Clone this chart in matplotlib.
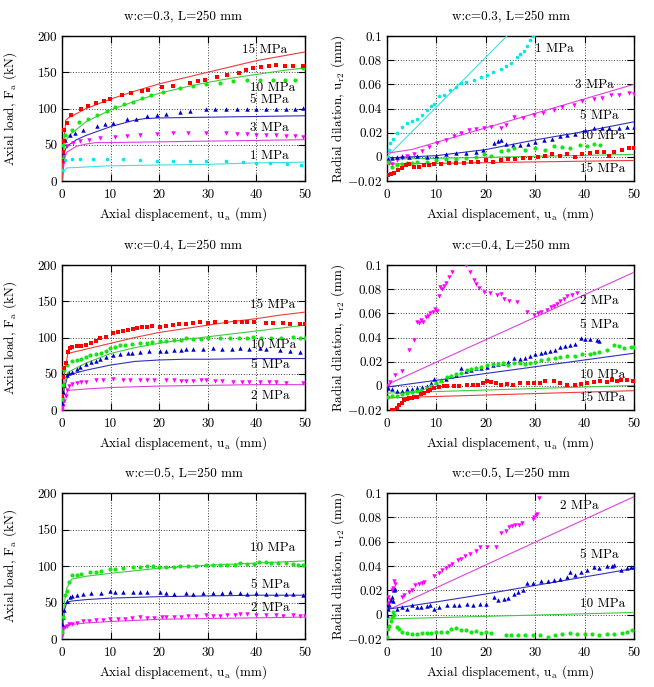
import matplotlib
matplotlib.use("Agg")
import matplotlib.pyplot as plt
from matplotlib.ticker import FuncFormatter, MultipleLocator

plt.rcParams['font.family'] = 'serif'
plt.rcParams['font.serif'] = ['cmr10', 'DejaVu Serif']
plt.rcParams['mathtext.fontset'] = 'cm'
plt.rcParams['axes.formatter.use_mathtext'] = True
plt.rcParams['axes.unicode_minus'] = True

# ---------------- colours / markers per confining pressure ----------------
COL = {
    'red':     ('#ff0000', '#f03a3a', 's', 2.8),
    'green':   ('#14e614', '#3ccc3c', 'o', 3.0),
    'blue':    ('#0000cc', '#3030c0', '^', 3.2),
    'magenta': ('#ff00ff', '#e040e0', 'v', 3.2),
    'cyan':    ('#00e8e8', '#40e0e0', 'o', 2.6),
}

# ================= Panel 1: w:c=0.3 axial load =================
p1_title = "w:c=0.3, L=250 mm"
p1_red_x = [0.1, 0.2, 0.3, 0.5, 1.0, 1.9, 4.0, 5.4, 6.9, 8.6, 9.9, 12.4, 14.2, 16.4, 17.7, 20.6, 22.9, 26.3, 27.9, 29.5, 31.8, 34.0, 36.4, 37.8, 39.3, 41.0, 42.5, 44.0, 45.8, 47.5, 49.5]
p1_red_y = [28, 40, 55, 70, 80, 91, 100, 103, 107, 110, 113, 118, 121, 124, 125, 130, 131, 135, 138, 140, 144, 146, 149, 153, 156, 157, 159, 160, 159, 159, 158]
p1_red_lx = [0, 0.3, 0.8, 1.3, 5, 10, 15, 20, 25, 30, 35, 40, 45, 50]
p1_red_ly = [0, 50, 84, 87, 100, 113, 124, 134, 142, 150, 158, 166, 172, 178]
p1_green_x = [0.1, 0.3, 0.6, 2.0, 3.5, 5.3, 7.1, 9.2, 11.0, 12.8, 14.7, 16.4, 18.4, 20.8, 24.2, 27.0, 29.7, 32.5, 35.2, 38.0, 40.7, 43.4, 45.8, 47.9, 49.5]
p1_green_y = [30, 50, 63, 70, 81, 86, 91, 97, 102, 106, 109, 114, 118, 123, 128, 131, 134, 135, 138, 139, 140, 140, 140, 140, 156]
p1_green_lx = [0, 0.5, 1.3, 5, 10, 15, 20, 25, 30, 35, 40, 45, 50]
p1_green_ly = [0, 50, 62, 82, 98, 110, 121, 129, 136, 142, 147, 152, 156]
p1_blue_x = [0.2, 0.6, 1.6, 2.7, 4.4, 7.1, 8.8, 10.5, 13.3, 15.3, 17.4, 19.5, 21.5, 24.2, 26.3, 29.7, 31.5, 33.8, 36, 38, 40, 42, 44, 46, 48, 49.6]
p1_blue_y = [40, 57, 64, 66, 70, 76, 79, 80, 85, 86, 89, 91, 93, 95, 97, 99, 99, 100, 100, 100, 100, 100, 100, 100, 100, 101]
p1_blue_lx = [0, 0.5, 1, 3, 5, 10, 15, 17, 20, 30, 40, 50]
p1_blue_ly = [0, 40, 48, 57, 63, 75, 84, 86, 87, 88, 89, 90]
p1_mag_x = [0.2, 1.0, 2.3, 3.7, 5.5, 7.8, 10.9, 13.3, 16.0, 19.5, 22.9, 26.0, 29.7, 33.8, 36, 38, 40, 42, 44, 46, 48, 49.6]
p1_mag_y = [25, 48, 52, 55, 57, 59, 61, 62, 64, 65, 66, 66, 66, 66, 65, 65, 64, 64, 63, 62, 62, 61]
p1_mag_lx = [0, 0.5, 1, 3, 5, 7, 10, 20, 30, 40, 50]
p1_mag_ly = [0, 30, 40, 48, 51, 53, 53, 54, 55, 56, 57]
p1_cyan_x = [0.1, 0.6, 2.0, 3.7, 6.4, 9.2, 12.6, 16.0, 19.5, 22.9, 26.3, 29.7, 33.8, 37.3, 40.0, 42.7, 46.2, 49.2]
p1_cyan_y = [15, 29, 30, 31, 31, 31, 30, 29, 28, 28, 27, 27, 27, 26, 25, 25, 23, 22]
p1_cyan_lx = [0, 0.5, 1, 10, 20, 30, 40, 50]
p1_cyan_ly = [0, 15, 18, 21, 22, 23, 25, 26]
p1_labels = ["15 MPa", "10 MPa", "5 MPa", "3 MPa", "1 MPa"]
p1_label_x = [41.6, 43.4, 42.6, 42.7, 42.6]
p1_label_y = [181, 128, 112, 73, 35]

# ================= Panel 2: w:c=0.3 radial dilation =================
p2_cyan_x = [0.2, 0.5, 0.7, 1.2, 2.0, 3.0, 4.0, 5.0, 6.1, 7.0, 8.1, 9.0, 9.5, 10.5, 11.5, 12.8, 14.0, 14.9, 16.0, 17.6, 19.0, 20.3, 21.5, 23.0, 24.0, 25.0, 26.4, 27.0, 27.7, 28.4, 29.0, 29.5]
p2_cyan_y = [0.000, 0.006, 0.0115, 0.015, 0.020, 0.025, 0.028, 0.030, 0.031, 0.035, 0.039, 0.042, 0.044, 0.050, 0.051, 0.055, 0.058, 0.061, 0.062, 0.064, 0.066, 0.068, 0.070, 0.073, 0.075, 0.078, 0.083, 0.085, 0.088, 0.092, 0.097, 0.100]
p2_cyan_lx = [0, 25]
p2_cyan_ly = [0.0, 0.103]
p2_mag_x = [0.5, 1.0, 2.0, 3.0, 4.0, 5.5, 7.0, 8.5, 10.1, 12.0, 13.5, 14.9, 16.5, 18.0, 19.6, 21.0, 23.0, 24.0, 25.7, 27.5, 29.7, 31.5, 33.8, 35.5, 37.8, 39.5, 41.9, 43.5, 45.3, 47.0, 49.0, 50.0]
p2_mag_y = [-0.005, -0.006, -0.003, -0.001, 0.001, 0.002, 0.005, 0.008, 0.0115, 0.014, 0.017, 0.020, 0.022, 0.023, 0.024, 0.025, 0.024, 0.026, 0.033, 0.032, 0.035, 0.036, 0.039, 0.041, 0.043, 0.046, 0.048, 0.049, 0.051, 0.051, 0.053, 0.052]
p2_mag_lx = [0, 5, 10, 20, 30, 40, 50]
p2_mag_ly = [0.003, 0.006, 0.012, 0.024, 0.036, 0.048, 0.060]
p2_blue_x = [0.2, 1.0, 2.0, 3.0, 4.5, 6.0, 8.0, 10.0, 12.0, 14.0, 16.0, 18.0, 19.5, 21.6, 22.5, 23.0, 24.0, 25.5, 27.0, 28.5, 30.0, 31.8, 33.5, 35.0, 36.5, 38.0, 40.0, 41.9, 43.5, 45.0, 47.0, 48.6, 50.0]
p2_blue_y = [-0.002, -0.001, 0.0, 0.001, 0.000, 0.001, 0.000, 0.001, 0.002, 0.003, 0.003, 0.004, 0.006, 0.0115, 0.013, 0.014, 0.011, 0.010, 0.010, 0.011, 0.012, 0.014, 0.015, 0.017, 0.018, 0.019, 0.022, 0.024, 0.024, 0.024, 0.024, 0.025, 0.025]
p2_blue_lx = [0, 5, 10, 20, 30, 40, 50]
p2_blue_ly = [-0.001, 0.0, 0.001, 0.006, 0.014, 0.021, 0.029]
p2_green_x = [0.3, 1.0, 2.0, 3.0, 4.0, 5.0, 6.0, 8.0, 10.0, 12.0, 14.0, 16.0, 18.0, 19.6, 21.0, 23.0, 24.5, 25.7, 28.0, 30.0, 32.0, 33.8, 35.5, 37.0, 39.0, 40.5, 42.0, 43.2]
p2_green_y = [-0.004, -0.008, -0.007, -0.006, -0.005, -0.005, -0.004, -0.004, -0.003, -0.002, -0.002, -0.001, 0.000, 0.002, 0.001, 0.005, 0.006, 0.007, 0.006, 0.007, 0.006, 0.009, 0.008, 0.007, 0.010, 0.009, 0.011, 0.010]
p2_green_lx = [0, 50]
p2_green_ly = [-0.002, 0.002]
p2_red_x = [0.2, 0.8, 1.5, 2.2, 3.0, 3.8, 4.5, 5.5, 6.5, 7.5, 8.5, 9.5, 11.0, 12.5, 14.0, 15.5, 17.0, 18.5, 20.0, 21.5, 23.0, 24.5, 26.0, 27.5, 29.0, 30.5, 32.0, 33.5, 35.0, 36.5, 38.0, 39.5, 41.0, 42.5, 44.0, 45.0, 46.0, 47.5, 49.0, 50.0]
p2_red_y = [-0.015, -0.014, -0.013, -0.011, -0.009, -0.007, -0.006, -0.008, -0.008, -0.007, -0.007, -0.006, -0.006, -0.005, -0.005, -0.005, -0.004, -0.004, -0.003, -0.004, -0.003, -0.002, -0.002, -0.001, -0.001, 0.000, 0.001, 0.002, 0.001, 0.002, 0.000, 0.002, 0.003, 0.004, 0.004, 0.001, 0.004, 0.006, 0.007, 0.007]
p2_red_lx = [0, 50]
p2_red_ly = [-0.006, -0.003]
p2_labels = ["1 MPa", "3 MPa", "5 MPa", "10 MPa", "15 MPa"]
p2_label_x = [33.8, 41.9, 42.9, 43.6, 43.6]
p2_label_y = [0.0896, 0.0595, 0.034, 0.017, -0.010]

# ================= Panel 3: w:c=0.4 axial load =================
p3_title = "w:c=0.4, L=250 mm"
p3_red_x = [0.1, 0.3, 0.5, 0.8, 1.2, 1.6, 2.0, 3.0, 4.0, 5.0, 6.0, 7.0, 7.8, 9.0, 10.5, 11.5, 12.5, 13.5, 14.7, 15.5, 16.5, 17.4, 18.5, 20.1, 21.5, 22.9, 24.0, 25.5, 27.0, 28.4, 30.0, 31.5, 33.8, 35.5, 37.0, 38.0, 39.5, 42.0, 43.5, 45.5, 47.0, 49.0, 50.0]
p3_red_y = [20, 45, 58, 65, 80, 85, 87, 88, 88, 90, 92, 95, 99, 101, 106, 107, 109, 110, 112, 113, 114, 115, 116, 115, 116, 117, 118, 119, 120, 121, 120, 121, 122, 121, 121, 122, 121, 120, 120, 120, 119, 119, 118]
p3_red_lx = [0, 0.5, 1.2, 5, 10, 15, 20, 25, 30, 35, 40, 45, 50]
p3_red_ly = [0, 50, 78, 84, 92, 100, 107, 112, 117, 122, 126, 131, 135]
p3_green_x = [0.1, 0.3, 0.5, 1.0, 2.0, 3.0, 4.0, 5.0, 5.8, 7.0, 8.0, 9.0, 9.9, 11.0, 11.9, 13.0, 14.5, 16.0, 17.5, 18.5, 20.1, 21.5, 23.0, 24.5, 25.6, 27.0, 28.5, 30.0, 32.5, 34.5, 36.5, 38.0, 39.3, 41.0, 43.0, 45.0, 47.5, 49.0, 50.0]
p3_green_y = [15, 35, 55, 62, 67, 69, 71, 73, 76, 77, 79, 81, 85, 87, 90, 90, 91, 92, 93, 94, 95, 95, 96, 97, 99, 98, 98, 99, 100, 99, 100, 100, 101, 100, 100, 100, 101, 100, 100]
p3_green_lx = [0, 0.5, 1.2, 5, 10, 15, 20, 25, 30, 35, 40, 45, 50]
p3_green_ly = [0, 35, 52, 65, 78, 86, 92, 97, 101, 105, 109, 113, 117]
p3_blue_x = [0.1, 0.3, 0.5, 1.0, 1.5, 2.0, 3.0, 3.7, 5.0, 6.0, 7.0, 7.8, 9.0, 10.5, 12.0, 13.5, 14.5, 16.0, 18.0, 20.1, 21.5, 23.0, 24.5, 25.6, 27.0, 29.0, 31.1, 33.0, 35.0, 36.6, 38.5, 40.7, 42.0, 44.8, 47.0, 49.0]
p3_blue_y = [10, 25, 35, 48, 51, 53, 56, 60, 63, 66, 68, 71, 73, 76, 77, 78, 79, 80, 81, 82, 82, 83, 83, 84, 84, 84, 85, 84, 84, 85, 84, 86, 84, 83, 82, 80]
p3_blue_lx = [0, 0.5, 1.2, 5, 10, 15, 20, 25, 30, 40, 50]
p3_blue_ly = [0, 30, 48, 55, 62, 67, 69, 70, 70, 71, 71]
p3_mag_x = [0.1, 0.3, 0.5, 0.8, 1.0, 1.5, 2.0, 3.0, 4.0, 5.0, 7.0, 8.5, 10.5, 12.5, 14.0, 16.0, 17.5, 19.0, 21.5, 23.0, 24.5, 25.6, 27.0, 28.5, 29.7, 31.5, 33.0, 35.2, 37.0, 38.5, 40.7, 42.5, 44.0, 46.0, 49.6]
p3_mag_y = [0, 5, 12, 20, 28, 33, 36, 37, 39, 39, 41, 41, 43, 42, 42, 42, 42, 42, 41, 41, 40, 40, 40, 41, 41, 40, 40, 39, 39, 39, 38, 38, 38, 37, 37]
p3_mag_lx = [0, 0.5, 1.2, 5, 10, 20, 30, 40, 50]
p3_mag_ly = [0, 15, 27, 29, 31, 33, 34, 35, 35]
p3_labels = ["15 MPa", "10 MPa", "5 MPa", "2 MPa"]
p3_label_x = [43.4, 43.6, 42.9, 42.9]
p3_label_y = [145, 90, 62, 20]

# ================= Panel 4: w:c=0.4 radial dilation =================
p4_mag_x = [0.2, 0.7, 1.7, 3.0, 4.4, 5.5, 6.1, 6.5, 6.8, 7.3, 7.8, 8.3, 8.8, 9.3, 9.8, 10.2, 10.5, 10.8, 11.2, 11.5, 12.0, 12.5, 13.2, 15.9, 16.9, 17.6, 18.1, 18.6, 19.6, 20.9, 22.3, 23.0, 23.6, 24.7, 26.4, 28.4, 29.7, 30.5, 31.1, 32.4, 33.1, 33.8, 34.5, 35.1, 35.8, 36.5, 37.5, 38.5]
p4_mag_y = [-0.0005, 0.0035, 0.009, 0.012, 0.030, 0.038, 0.053, 0.052, 0.0545, 0.053, 0.057, 0.058, 0.060, 0.061, 0.064, 0.062, 0.074, 0.082, 0.080, 0.083, 0.085, 0.090, 0.094, 0.100, 0.094, 0.0875, 0.084, 0.081, 0.078, 0.0765, 0.075, 0.076, 0.072, 0.070, 0.069, 0.061, 0.059, 0.060, 0.061, 0.063, 0.065, 0.066, 0.068, 0.070, 0.072, 0.074, 0.075, 0.0765]
p4_mag_lx = [0, 50]
p4_mag_ly = [0.001, 0.094]
p4_blue_x = [0.2, 1.0, 2.0, 3.0, 4.0, 5.0, 6.0, 7.0, 8.0, 9.0, 9.5, 10.0, 11.0, 12.0, 13.0, 14.0, 14.9, 16.0, 17.0, 18.0, 19.0, 20.3, 21.5, 22.5, 23.5, 24.5, 25.7, 27.0, 28.0, 29.0, 30.0, 31.1, 32.0, 33.0, 34.0, 35.1, 36.0, 37.0, 38.0, 39.2, 40.0, 41.0, 42.6, 43.0]
p4_blue_y = [-0.002, -0.003, -0.004, -0.004, -0.003, -0.003, -0.002, -0.001, 0.000, 0.002, 0.006, 0.003, 0.005, 0.006, 0.008, 0.009, 0.0146, 0.012, 0.013, 0.015, 0.015, 0.016, 0.017, 0.018, 0.019, 0.020, 0.023, 0.022, 0.023, 0.025, 0.026, 0.027, 0.028, 0.029, 0.030, 0.0325, 0.033, 0.034, 0.035, 0.040, 0.039, 0.039, 0.038, 0.037]
p4_blue_lx = [0, 50]
p4_blue_ly = [-0.001, 0.027]
p4_green_x = [0.2, 1.0, 2.0, 3.0, 4.0, 5.0, 6.0, 6.8, 8.0, 9.0, 10.0, 11.0, 12.2, 13.0, 14.0, 15.0, 16.2, 17.0, 18.0, 19.0, 20.3, 21.5, 22.5, 23.5, 24.5, 25.7, 27.0, 28.0, 29.0, 30.0, 31.1, 32.5, 34.0, 35.0, 36.5, 38.0, 39.5, 41.0, 41.9, 43.0, 44.5, 46.0, 47.0, 48.0, 49.3, 50.0]
p4_green_y = [-0.009, -0.008, -0.008, -0.007, -0.006, -0.005, -0.004, -0.0033, -0.002, 0.000, 0.002, 0.004, 0.0077, 0.008, 0.010, 0.011, 0.013, 0.014, 0.015, 0.016, 0.017, 0.018, 0.018, 0.019, 0.017, 0.0187, 0.019, 0.018, 0.019, 0.020, 0.021, 0.022, 0.023, 0.024, 0.025, 0.025, 0.026, 0.026, 0.027, 0.028, 0.030, 0.034, 0.033, 0.031, 0.032, 0.032]
p4_green_lx = [0, 50]
p4_green_ly = [-0.006, 0.0003]
p4_red_x = [1.0, 1.4, 2.0, 2.5, 3.0, 3.4, 4.0, 4.5, 5.0, 5.5, 6.1, 6.8, 7.5, 8.2, 8.8, 9.5, 10.5, 11.5, 12.2, 13.5, 14.5, 16.2, 17.5, 18.5, 19.5, 20.3, 21.0, 22.0, 23.0, 24.3, 25.5, 27.0, 28.5, 29.7, 31.0, 32.0, 33.8, 35.0, 36.5, 38.0, 39.2, 40.5, 42.0, 43.2, 44.5, 45.5, 46.5, 47.3, 48.5, 49.7]
p4_red_y = [-0.020, -0.020, -0.018, -0.016, -0.014, -0.0115, -0.011, -0.010, -0.010, -0.009, -0.009, -0.007, -0.006, -0.004, -0.0033, -0.002, -0.001, 0.000, -0.0005, 0.000, 0.000, 0.0008, 0.001, 0.001, 0.002, 0.0036, 0.003, 0.002, 0.001, 0.0017, 0.001, 0.002, 0.002, 0.0022, 0.002, 0.004, 0.0036, 0.002, 0.001, 0.001, 0.0017, 0.002, 0.003, 0.0036, 0.003, 0.005, 0.004, 0.005, 0.005, 0.0044]
p4_red_lx = [0, 50]
p4_red_ly = [-0.010, -0.004]
p4_labels = ["2 MPa", "5 MPa", "10 MPa", "15 MPa"]
p4_label_x = [42.9, 42.9, 43.6, 43.6]
p4_label_y = [0.070, 0.050, 0.009, -0.010]

# ================= Panel 5: w:c=0.5 axial load =================
p5_title = "w:c=0.5, L=250 mm"
p5_green_x = [0.1, 0.3, 0.6, 1.0, 1.5, 2.0, 3.0, 4.0, 5.8, 7.0, 8.0, 9.9, 11.0, 12.5, 14.7, 16.0, 17.5, 18.8, 20.0, 21.5, 23.0, 24.2, 26.0, 27.5, 29.7, 31.0, 32.5, 34.0, 35.5, 36.6, 38.0, 39.5, 40.5, 42.0, 43.0, 44.5, 46.0, 47.5, 48.5, 49.6]
p5_green_y = [10, 30, 60, 66, 78, 87, 88, 89, 91.5, 92, 93, 96, 96, 97, 98, 99, 100, 100, 98, 98, 99, 100, 100, 100, 102, 101, 101, 102, 102, 104, 103, 103, 105, 105, 104, 104, 104, 103, 102, 102]
p5_green_lx = [0, 0.5, 1, 2, 5, 10, 20, 30, 40, 50]
p5_green_ly = [0, 50, 70, 82, 86, 90, 97, 101, 104, 107]
p5_blue_x = [0.1, 0.3, 0.5, 1.0, 1.6, 2.0, 3.0, 4.4, 6.0, 8.0, 9.9, 11.0, 12.5, 14.7, 16.0, 17.5, 20.1, 21.5, 23.0, 25.6, 27.0, 29.0, 31.1, 33.0, 34.5, 36.6, 38.0, 40.0, 42.0, 44.0, 46.0, 47.5, 49.6]
p5_blue_y = [20, 30, 40, 52, 57, 59, 60, 62, 63, 63, 66, 65, 64, 64, 64, 64, 64, 63, 62, 63, 62, 63, 63, 63, 64, 63, 62, 63, 62, 62, 62, 61, 60]
p5_blue_lx = [0, 0.5, 1, 2, 5, 10, 20, 30, 40, 50]
p5_blue_ly = [0, 40, 50, 52, 54, 56, 58, 59, 60, 60]
p5_mag_x = [0.1, 0.3, 0.6, 1.0, 1.5, 2.0, 3.0, 4.4, 5.5, 7.0, 8.5, 9.9, 11.5, 13.0, 14.5, 16.0, 17.5, 19.0, 20.5, 21.5, 23.0, 24.5, 26.0, 27.5, 29.7, 31.0, 32.5, 34.0, 35.5, 36.6, 38.0, 40.0, 42.0, 44.0, 45.5, 47.5, 49.0, 50.0]
p5_mag_y = [5, 15, 17, 18, 20, 21, 22, 25, 25, 26, 26, 27.5, 28, 28, 29, 30, 29, 29, 30, 30.7, 30, 30, 31, 31, 33, 32, 32, 33, 33, 34, 34, 33, 33, 33, 32, 33, 32, 32]
p5_mag_lx = [0, 0.5, 1, 2, 5, 10, 20, 30, 40, 50]
p5_mag_ly = [0, 15, 18, 20, 22, 24, 27, 28, 29, 30]
p5_labels = ["10 MPa", "5 MPa", "2 MPa"]
p5_label_x = [43.4, 42.9, 42.9]
p5_label_y = [125, 74, 43]

# ================= Panel 6: w:c=0.5 radial dilation =================
p6_mag_x = [0.1, 0.2, 0.3, 0.5, 0.7, 1.0, 1.2, 1.4, 1.7, 3.0, 3.5, 4.4, 5.1, 5.7, 6.4, 7.0, 7.4, 9.5, 10.5, 11.1, 12.0, 12.5, 13.2, 14.3, 14.9, 15.8, 16.9, 18.0, 18.9, 20.3, 22.0, 23.0, 24.0, 24.7, 25.3, 26.0, 26.8, 27.4, 29.5, 29.7, 30.1, 30.4, 30.7]
p6_mag_y = [0.005, 0.009, 0.0145, 0.010, 0.0117, 0.020, 0.022, 0.028, 0.025, 0.0145, 0.016, 0.0186, 0.020, 0.024, 0.0255, 0.026, 0.027, 0.032, 0.034, 0.0366, 0.038, 0.040, 0.042, 0.045, 0.046, 0.048, 0.050, 0.052, 0.056, 0.056, 0.056, 0.067, 0.069, 0.072, 0.073, 0.074, 0.074, 0.075, 0.079, 0.080, 0.082, 0.083, 0.096]
p6_mag_lx = [0, 50]
p6_mag_ly = [0.0035, 0.097]
p6_blue_x = [0.1, 0.3, 0.5, 0.8, 1.0, 1.2, 1.5, 1.7, 2.0, 3.0, 4.0, 5.0, 6.0, 6.8, 8.0, 8.8, 9.5, 10.5, 12.2, 13.5, 14.5, 16.2, 17.5, 18.9, 20.0, 21.6, 22.5, 23.6, 24.5, 25.7, 26.5, 27.5, 28.4, 29.5, 31.1, 32.5, 33.8, 35.0, 36.5, 37.0, 38.0, 39.2, 40.5, 41.9, 43.0, 44.6, 45.5, 46.0, 47.3, 48.5, 49.3, 50.0]
p6_blue_y = [0.000, 0.005, 0.008, 0.012, 0.0145, 0.011, 0.020, 0.021, 0.005, 0.006, 0.005, 0.008, 0.006, 0.006, 0.007, 0.0076, 0.005, 0.006, 0.0076, 0.008, 0.008, 0.009, 0.008, 0.009, 0.009, 0.0145, 0.012, 0.013, 0.014, 0.017, 0.019, 0.020, 0.026, 0.026, 0.028, 0.028, 0.0288, 0.029, 0.031, 0.035, 0.033, 0.035, 0.037, 0.039, 0.038, 0.040, 0.040, 0.0407, 0.037, 0.038, 0.039, 0.039]
p6_blue_lx = [0, 1, 10, 20, 30, 40, 50]
p6_blue_ly = [0.005, 0.005, 0.0105, 0.017, 0.024, 0.031, 0.038]
p6_green_x = [0.1, 0.3, 0.5, 0.8, 1.0, 1.3, 1.5, 2.0, 2.5, 3.0, 4.0, 5.0, 6.0, 7.0, 8.0, 9.0, 10.0, 11.0, 12.2, 13.0, 14.0, 15.0, 16.0, 17.0, 18.0, 19.0, 20.0, 21.0, 24.0, 25.0, 26.5, 28.0, 29.5, 31.0, 32.5, 34.0, 35.5, 37.0, 38.5, 40.0, 41.5, 43.0, 44.5, 46.0, 47.5, 48.5, 49.6]
p6_green_y = [-0.0186, -0.012, -0.009, -0.005, -0.002, 0.002, 0.000, -0.010, -0.012, -0.0145, -0.015, -0.016, -0.016, -0.015, -0.015, -0.015, -0.014, -0.014, -0.014, -0.012, -0.011, -0.013, -0.013, -0.014, -0.0137, -0.015, -0.014, -0.015, -0.017, -0.017, -0.017, -0.017, -0.017, -0.017, -0.018, -0.017, -0.016, -0.015, -0.016, -0.0159, -0.016, -0.017, -0.016, -0.0159, -0.015, -0.014, -0.013]
p6_green_lx = [0, 50]
p6_green_ly = [-0.0035, 0.0018]
p6_labels = ["2 MPa", "5 MPa", "10 MPa"]
p6_label_x = [38.9, 42.9, 43.6]
p6_label_y = [0.089, 0.049, 0.009]

x_ticks = [0, 10, 20, 30, 40, 50]
load_ticks = [0, 50, 100, 150, 200]
dil_ticks = [-0.02, 0, 0.02, 0.04, 0.06, 0.08, 0.1]

xlabel = r"Axial displacement, u$_\mathrm{a}$ (mm)"
load_label = r"Axial load, F$_\mathrm{a}$ (kN)"
dil_label = r"Radial dilation, u$_\mathrm{r2}$ (mm)"

FS = 9.5
W, H = 654, 687
fig = plt.figure(figsize=(W / 100, H / 100), dpi=100)

def ax_at(l, t, r, b):
    return fig.add_axes([l / W, 1 - b / H, (r - l) / W, (b - t) / H])

def fmt(v, pos):
    s = '%g' % round(v, 4)
    return '$%s$' % s if s.startswith('-') else s

def style(ax, kind, title=None):
    ax.set_xlim(0, 50)
    ax.set_xticks(x_ticks)
    if kind == 'load':
        ax.set_ylim(0, 200)
        ax.set_yticks(load_ticks)
        ax.set_ylabel(load_label, fontsize=FS)
        ax.yaxis.set_label_coords(-0.175, 0.5)
    else:
        ax.set_ylim(-0.02, 0.1)
        ax.set_yticks(dil_ticks)
        ax.set_ylabel(dil_label, fontsize=FS)
        ax.yaxis.set_label_coords(-0.16, 0.5)
    ax.yaxis.set_major_formatter(FuncFormatter(fmt))
    ax.xaxis.set_major_formatter(FuncFormatter(fmt))
    ax.set_xlabel(xlabel, fontsize=FS, labelpad=3)
    ax.tick_params(direction='in', length=5, width=0.8, top=True, right=True,
                   labelsize=FS)
    ax.tick_params(axis='x', pad=6)
    ax.tick_params(axis='y', pad=3.5)
    ax.grid(True, linestyle=(0, (1, 2.2)), color='black', linewidth=0.6)
    ax.set_axisbelow(True)
    for s in ax.spines.values():
        s.set_linewidth(1.0)
    if title:
        ax.set_title(title, fontsize=FS, pad=11)

def series(ax, name, mx, my, lx, ly):
    mc, lc, mk, ms = COL[name]
    ax.plot(lx, ly, color=lc, lw=0.8, zorder=3)
    ax.plot(mx, my, ls='none', marker=mk, color=mc, ms=ms, mew=0, zorder=4)

def labels(ax, texts, xs, ys):
    for t, x, y in zip(texts, xs, ys):
        ax.text(x, y, t, ha='center', va='center', fontsize=FS, zorder=5)

L1, R1 = 62, 305
L2, R2 = 387, 634
rows = [(36, 181), (265, 410), (493, 639)]

# Panel 1
ax = ax_at(L1, rows[0][0], R1, rows[0][1])
series(ax, 'cyan', p1_cyan_x, p1_cyan_y, p1_cyan_lx, p1_cyan_ly)
series(ax, 'magenta', p1_mag_x, p1_mag_y, p1_mag_lx, p1_mag_ly)
series(ax, 'blue', p1_blue_x, p1_blue_y, p1_blue_lx, p1_blue_ly)
series(ax, 'green', p1_green_x, p1_green_y, p1_green_lx, p1_green_ly)
series(ax, 'red', p1_red_x, p1_red_y, p1_red_lx, p1_red_ly)
labels(ax, p1_labels, p1_label_x, p1_label_y)
style(ax, 'load', p1_title)

# Panel 2
ax = ax_at(L2, rows[0][0], R2, rows[0][1])
series(ax, 'cyan', p2_cyan_x, p2_cyan_y, p2_cyan_lx, p2_cyan_ly)
series(ax, 'magenta', p2_mag_x, p2_mag_y, p2_mag_lx, p2_mag_ly)
series(ax, 'blue', p2_blue_x, p2_blue_y, p2_blue_lx, p2_blue_ly)
series(ax, 'green', p2_green_x, p2_green_y, p2_green_lx, p2_green_ly)
series(ax, 'red', p2_red_x, p2_red_y, p2_red_lx, p2_red_ly)
labels(ax, p2_labels, p2_label_x, p2_label_y)
style(ax, 'dil', p1_title)

# Panel 3
ax = ax_at(L1, rows[1][0], R1, rows[1][1])
series(ax, 'magenta', p3_mag_x, p3_mag_y, p3_mag_lx, p3_mag_ly)
series(ax, 'blue', p3_blue_x, p3_blue_y, p3_blue_lx, p3_blue_ly)
series(ax, 'green', p3_green_x, p3_green_y, p3_green_lx, p3_green_ly)
series(ax, 'red', p3_red_x, p3_red_y, p3_red_lx, p3_red_ly)
labels(ax, p3_labels, p3_label_x, p3_label_y)
style(ax, 'load', p3_title)

# Panel 4
ax = ax_at(L2, rows[1][0], R2, rows[1][1])
series(ax, 'magenta', p4_mag_x, p4_mag_y, p4_mag_lx, p4_mag_ly)
series(ax, 'blue', p4_blue_x, p4_blue_y, p4_blue_lx, p4_blue_ly)
series(ax, 'green', p4_green_x, p4_green_y, p4_green_lx, p4_green_ly)
series(ax, 'red', p4_red_x, p4_red_y, p4_red_lx, p4_red_ly)
labels(ax, p4_labels, p4_label_x, p4_label_y)
style(ax, 'dil', p3_title)

# Panel 5
ax = ax_at(L1, rows[2][0], R1, rows[2][1])
series(ax, 'magenta', p5_mag_x, p5_mag_y, p5_mag_lx, p5_mag_ly)
series(ax, 'blue', p5_blue_x, p5_blue_y, p5_blue_lx, p5_blue_ly)
series(ax, 'green', p5_green_x, p5_green_y, p5_green_lx, p5_green_ly)
labels(ax, p5_labels, p5_label_x, p5_label_y)
style(ax, 'load', p5_title)

# Panel 6
ax = ax_at(L2, rows[2][0], R2, rows[2][1])
series(ax, 'magenta', p6_mag_x, p6_mag_y, p6_mag_lx, p6_mag_ly)
series(ax, 'blue', p6_blue_x, p6_blue_y, p6_blue_lx, p6_blue_ly)
series(ax, 'green', p6_green_x, p6_green_y, p6_green_lx, p6_green_ly)
labels(ax, p6_labels, p6_label_x, p6_label_y)
style(ax, 'dil', p5_title)

fig.savefig("out.png", dpi=100)
